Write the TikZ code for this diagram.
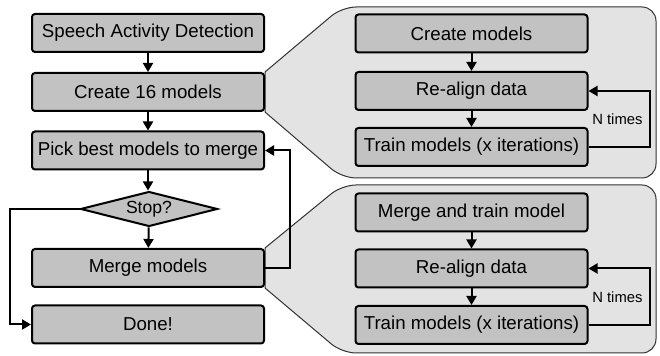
\documentclass[tikz,border=0pt]{standalone}
\usepackage{fontspec}
\setmainfont{Liberation Sans}
\usetikzlibrary{arrows.meta,shapes.geometric,positioning,backgrounds}
\definecolor{boxgray}{gray}{0.76}
\definecolor{panelgray}{gray}{0.89}

\begin{document}
\begin{tikzpicture}[x=0.5pt,y=-0.5pt,
  box/.style = {draw, line width=1pt, rounded corners=1.5pt, fill=boxgray,
    minimum width=116pt, minimum height=19pt, inner sep=0pt,
    font=\fontsize{9.35}{11}\selectfont},
  stopbox/.style = {diamond, draw, line width=1pt, fill=boxgray, aspect=4,
    minimum width=68.5pt, minimum height=17.5pt, inner sep=0pt,
    font=\fontsize{8.8}{10}\selectfont},
  panel/.style = {draw=black!80, line width=0.5pt, fill=panelgray},
  flow/.style = {line width=1pt, -{Triangle[length=4.5pt,width=5pt]}},
  loopnote/.style = {font=\fontsize{7.4}{9}\selectfont, left, inner sep=3pt}]
\useasboundingbox (0,0) rectangle (660,356);

% main flow
\node[box] (sad) at (148,33) {Speech Activity Detection};
\node[box] (c16) at (148,92) {Create 16 models};
\node[box] (pick) at (148,150.5) {Pick best models to merge};
\node[stopbox] (stop) at (149,209) {Stop?};
\node[box] (merge) at (148,268) {Merge models};
\node[box] (done) at (148,324.5) {Done!};

% detail of creating the models
\node[box] (cm) at (471.5,33.5) {Create models};
\node[box] (ra1) at (471.5,91) {Re-align data};
\node[box] (tm1) at (471.5,147) {Train models (x iterations)};

% detail of merging the models
\node[box] (mt) at (471.5,212.5) {Merge and train model};
\node[box] (ra2) at (471.5,268.5) {Re-align data};
\node[box] (tm2) at (471.5,325) {Train models (x iterations)};

\begin{scope}[on background layer]
\draw[panel] (c16.north east) [rounded corners=7pt] -- (342,7) -- (656,7) -- (656,178) -- (342,178) [sharp corners] -- (c16.south east) -- cycle;
\draw[panel] (merge.north east) [rounded corners=7pt] -- (342,185) -- (656,185) -- (656,353) -- (342,353) [sharp corners] -- (merge.south east) -- cycle;
\end{scope}

\draw[flow] (sad) -- (c16);
\draw[flow] (c16) -- (pick);
\draw[flow] (pick) -- (pick |- stop.north);
\draw[flow] (stop) -- (merge);
\draw[flow] (merge.east) -- ++(25,0) |- (pick.east);
\draw[flow] (stop.west) -- ++(-70,0) |- (done.west);

\draw[flow] (cm) -- (ra1);
\draw[flow] (ra1) -- (tm1);
\draw[flow] (tm1.east) -- ++(61,0) |- node[pos=0.25, loopnote] {N times} (ra1.east);

\draw[flow] (mt) -- (ra2);
\draw[flow] (ra2) -- (tm2);
\draw[flow] (tm2.east) -- ++(61,0) |- node[pos=0.25, loopnote] {N times} (ra2.east);
\end{tikzpicture}
\end{document}
